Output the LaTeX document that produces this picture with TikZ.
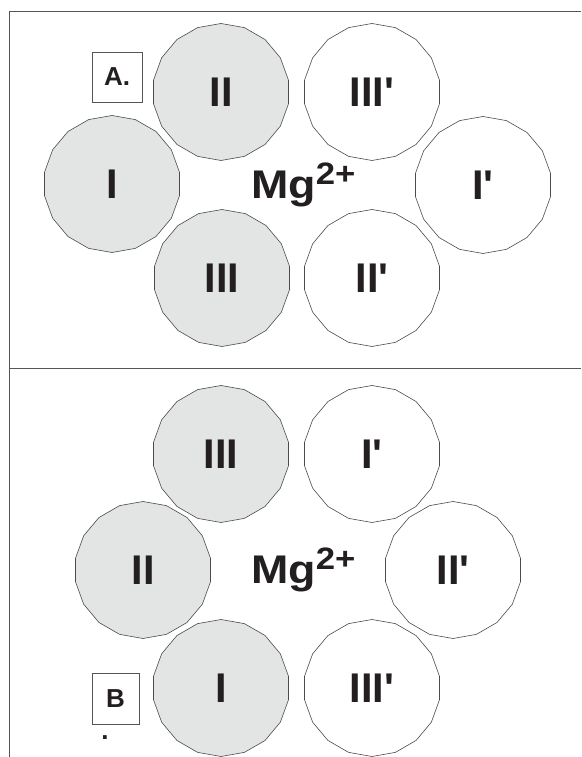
\documentclass[tikz,border=0pt]{standalone}
\usepackage{fontspec}
\setmainfont{Liberation Sans}
\usetikzlibrary{shapes.geometric}
\definecolor{lineg}{RGB}{75,75,75}
\definecolor{frameg}{RGB}{85,85,85}
\definecolor{fillg}{RGB}{227,228,228}
\definecolor{txt}{RGB}{35,31,32}
\newcommand{\pr}{\textquotesingle}
\newcommand{\mgion}{\scalebox{1.12}[1]{Mg\raisebox{14pt}{\fontsize{31}{36}\selectfont 2+}}}
\begin{document}
\begin{tikzpicture}[x=1pt,y=1pt,
  sub/.style={regular polygon, regular polygon sides=18, regular polygon rotate=10,
    minimum size=137pt, inner sep=0pt, draw=lineg, line width=0.6pt,
    font=\fontsize{41.5}{48}\selectfont\bfseries, text=txt},
  subgrey/.style={sub, fill=fillg},
  subwhite/.style={sub, fill=white},
  ion/.style={anchor=base west, inner sep=0pt, text=txt, font=\fontsize{40}{46}\selectfont\bfseries},
  tagbox/.style={draw=frameg, line width=0.7pt, fill=white, minimum width=50pt, minimum height=50pt,
    inner sep=0pt, text=txt, font=\fontsize{26}{30}\selectfont\bfseries},
  frame/.style={draw=frameg, line width=0.9pt}]
\fill[white] (0,0) rectangle (581,757);
\useasboundingbox (0,0) rectangle (581,757);
% frame
\coordinate (tr) at (581,746);
\coordinate (tl) at (9,746);
\coordinate (bl) at (9,0);
\coordinate (ml) at (9,389);
\coordinate (mr) at (581,389);
\draw[frame] (tr) -- (tl) -- (bl);
\draw[frame] (ml) -- (mr);
% panel A
\node[subgrey]  (aII)    at (221,665) {II};
\node[subwhite] (aIIIp)  at (372,665) {III\pr};
\node[subgrey]  (aI)     at (112,573) {I};
\node[subwhite] (aIp)    at (483,572) {I\pr};
\node[subgrey]  (aIII)   at (222,479) {III};
\node[subwhite] (aIIp)   at (372,479) {II\pr};
\node[ion] (mgA) at (251,558) {\mgion};
\node[tagbox] (boxA) at (117,680) {A.};
% panel B
\node[subgrey]  (bIII)   at (221,303) {III};
\node[subwhite] (bIp)    at (372,303) {I\pr};
\node[subgrey]  (bII)    at (143,187) {II};
\node[subwhite] (bIIp)   at (453,187) {II\pr};
\node[subgrey]  (bI)     at (221,69) {I};
\node[subwhite] (bIIIp)  at (372,69) {III\pr};
\node[ion] (mgB) at (251,173) {\mgion};
\node[tagbox, minimum width=47pt, minimum height=51pt] (boxB) at (115.5,58.5) {B};
\node[inner sep=0pt, text=txt, font=\fontsize{26}{30}\selectfont\bfseries, anchor=base] (dotB) at (105,17) {.};
\end{tikzpicture}
\end{document}
